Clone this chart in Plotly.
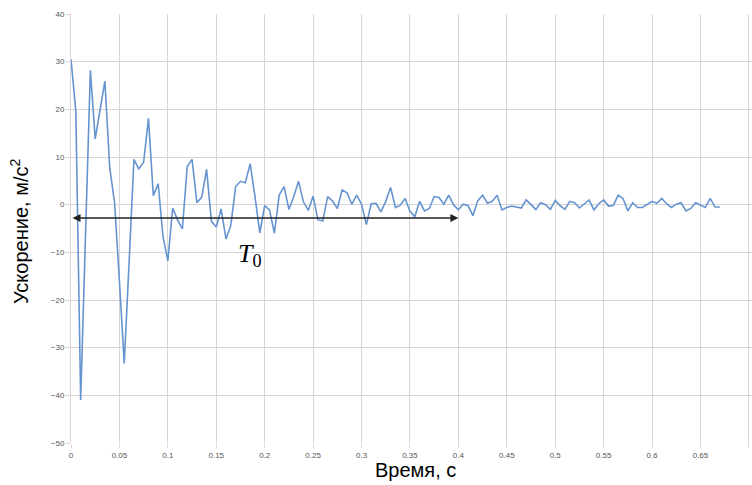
import plotly.graph_objects as go

dt = 0.005
accel = [
    30.5, 19.6, -41.0, -6.0, 28.2, 13.8, 20.0, 25.9, 7.7, 0.4,
    -16.0, -33.3, -12.0, 9.5, 7.5, 8.9, 18.1, 1.9, 4.4, -6.7,
    -11.8, -0.7, -3.2, -5.1, 8.0, 9.5, 0.4, 1.6, 7.4, -3.5,
    -4.7, -0.9, -7.2, -4.4, 3.8, 4.9, 4.6, 8.6, 1.7, -5.9,
    -0.2, -1.1, -6.0, 2.0, 3.8, -1.0, 1.7, 4.9, 0.6, -1.2,
    1.8, -3.2, -3.4, 1.7, 0.8, -0.8, 3.1, 2.5, 0.1, 2.0,
    0.1, -4.2, 0.2, 0.3, -1.5, 0.7, 3.6, -0.6, -0.1, 1.3,
    -1.4, -2.5, 0.7, -1.3, -0.8, 1.7, 1.5, 0.1, 2.0, 0.0,
    -1.1, 0.1, -0.2, -2.3, 0.8, 2.0, 0.3, 0.7, 2.0, -1.1,
    -0.6, -0.3, -0.5, -0.7, 1.0, 0.0, -1.0, 0.4, 0.0, -1.0,
    0.9, -0.2, -1.0, 0.7, 0.4, -0.7, 0.1, 1.0, -1.1, 0.2,
    1.0, -0.3, -0.2, 2.0, 1.3, -1.3, 0.4, -0.6, -0.6, 0.1,
    0.7, 0.3, 1.3, 0.2, -0.6, 0.1, 0.4, -1.3, -0.8, 0.4,
    -0.1, -0.6, 1.3, -0.5, -0.5,
]
time = [round(i * dt, 3) for i in range(len(accel))]

x_ticks = [0, 0.05, 0.1, 0.15, 0.2, 0.25, 0.3, 0.35, 0.4, 0.45, 0.5, 0.55, 0.6, 0.65, 0.7]
x_tick_text = ["0", "0.05", "0.1", "0.15", "0.2", "0.25", "0.3", "0.35", "0.4",
               "0.45", "0.5", "0.55", "0.6", "0.65", "0.7"]
y_ticks = [-50, -40, -30, -20, -10, 0, 10, 20, 30, 40]

arrow_y = -2.8
arrow_start = 0.0
arrow_end = 0.4

fig = go.Figure()
fig.add_trace(go.Scatter(
    x=time, y=accel, mode="lines",
    line=dict(color="#6694d0", width=1.6),
    showlegend=False, hoverinfo="skip",
))

grid = "#d6d6d6"
fig.update_layout(
    width=752, height=485,
    margin=dict(l=71, r=0, t=14, b=42),
    paper_bgcolor="white", plot_bgcolor="white",
    xaxis=dict(
        range=[0, 0.7032], tickvals=x_ticks, ticktext=x_tick_text,
        showgrid=True, gridcolor=grid, gridwidth=1,
        zeroline=False, showline=False,
        ticks="outside", ticklen=4, tickcolor=grid,
        tickfont=dict(family="Liberation Sans, Arial", size=8, color="#555555"),
    ),
    yaxis=dict(
        range=[-50, 40], tickvals=y_ticks,
        showgrid=True, gridcolor=grid, gridwidth=1,
        zeroline=False, showline=True, linecolor=grid, linewidth=1,
        ticks="outside", ticklen=4, tickcolor=grid,
        tickfont=dict(family="Liberation Sans, Arial", size=8, color="#555555"),
    ),
    annotations=[
        dict(x=arrow_end, y=arrow_y, ax=arrow_start, ay=arrow_y,
             xref="x", yref="y", axref="x", ayref="y",
             text="", showarrow=True, arrowhead=2, startarrowhead=2,
             arrowside="end+start", arrowsize=1, startarrowsize=1,
             arrowwidth=1.6, arrowcolor="#222222"),
        dict(x=0.185, y=-10.5, xref="x", yref="y", showarrow=False,
             text="<i>T</i><sub>0</sub>",
             font=dict(family="Liberation Serif, Times New Roman", size=26, color="black")),
        dict(x=415, y=470, xref="paper", yref="paper", showarrow=False,
             xanchor="center", yanchor="middle",
             text="Время, с",
             font=dict(family="Liberation Sans, Arial", size=20, color="black")),
        dict(x=19, y=232, xref="paper", yref="paper", showarrow=False,
             xanchor="center", yanchor="middle",
             text="Ускорение, м/с<sup>2</sup>", textangle=-90,
             font=dict(family="Liberation Sans, Arial", size=20, color="black")),
    ],
)

# convert pixel positions of axis-title annotations to paper coords
pw = 752 - 71
ph = 485 - 14 - 42
for ann in fig.layout.annotations[2:]:
    px, py = ann.x, ann.y
    ann.x = (px - 71) / pw
    ann.y = (485 - 42 - py) / ph

fig.write_html("out.html")
